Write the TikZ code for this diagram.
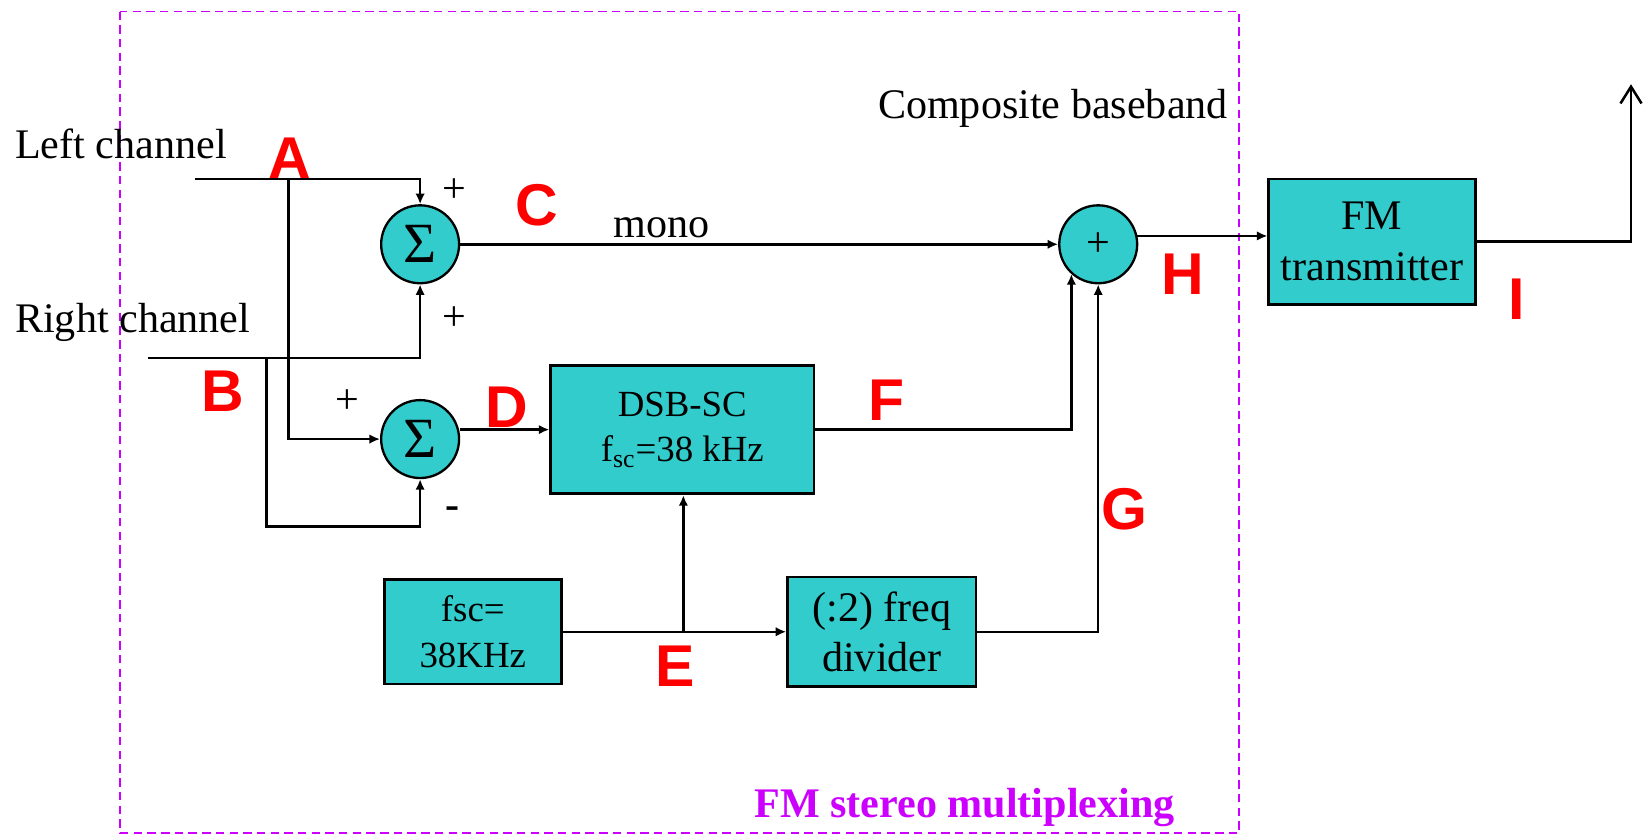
\documentclass[tikz,border=0pt]{standalone}
\usepackage{fontspec}
\setmainfont{Liberation Serif}
\newfontfamily\markfont{Liberation Sans}
\usepackage{tikz}
\usetikzlibrary{arrows.meta, calc, positioning}
\usepackage{xcolor}
\definecolor{blockteal}{RGB}{51,204,204}
\definecolor{muxmagenta}{RGB}{204,0,255}
\definecolor{markred}{RGB}{255,0,0}

\begin{document}
\begin{tikzpicture}[x=0.5pt, y=-0.5pt,
  block/.style={draw, line width=1.3pt, fill=blockteal, align=center, inner sep=0pt, font=\fontsize{20}{24}\selectfont},
  smallblock/.style={block, font=\fontsize{17.5}{21.5}\selectfont},
  adder/.style={draw, circle, line width=1.1pt, fill=blockteal, minimum size=37pt, inner sep=0pt},
  wire/.style={line width=1.2pt},
  sig/.style={wire, -{Latex[length=5pt,width=4.5pt]}},
  point/.style={font=\markfont\bfseries\fontsize{28}{28}\selectfont, text=markred},
  txt/.style={font=\fontsize{20}{24}\selectfont},
  sign/.style={font=\fontsize{20}{20}\selectfont}]
  \useasboundingbox (0,0) rectangle (1568,793);

  % multiplexer frame
  \draw[muxmagenta, line width=0.8pt, dash pattern=on 4pt off 2.5pt] (114,11) rectangle (1177,791);
  \node[font=\bfseries\fontsize{20}{24}\selectfont, text=muxmagenta] (muxname) at (916,767) {FM stereo multiplexing};

  % adders and blocks
  \node[adder, font=\fontsize{27}{27}\selectfont] (sumA) at (399,232) {Σ};
  \node[adder, font=\fontsize{27}{27}\selectfont] (sumB) at (399,417) {Σ};
  \node[adder, font=\fontsize{20}{20}\selectfont] (add) at (1043,232) {+};
  \node[smallblock, minimum width=125pt, minimum height=61pt] (dsb) at (648,408) {DSB-SC\\f\textsubscript{sc}=38 kHz};
  \node[smallblock, minimum width=84pt, minimum height=49.5pt] (osc) at (449,600) {fsc=\\38KHz};
  \node[block, minimum width=89.5pt, minimum height=52pt] (div) at (837.5,600) {(:2) freq\\divider};
  \node[block, minimum width=98pt, minimum height=59.5pt] (fm) at (1303,229.5) {FM\\transmitter};

  % inputs and branch points
  \coordinate (lin) at (185,170);
  \coordinate (rin) at (141,340);
  \coordinate (ja) at (274,170);
  \coordinate (jb) at (253,340);
  \coordinate (je) at (649,600);
  \coordinate (ant) at (1549,80);

  % connectors
  \draw[sig] (lin) -| (sumA.north);
  \draw[sig] (rin) -| (sumA.south);
  \draw[sig] (ja) |- (sumB.west);
  \draw[sig] (jb) -- ++(0,160) -| (sumB.south);
  \draw[sig] (sumA) -- (add);
  \draw[sig] (sumB.east |- dsb.west) -- (dsb.west);
  \draw[sig] (dsb.east) -| (add.228);
  \draw[sig] (osc) -- (div);
  \draw[sig] (je) -- (je |- dsb.south);
  \draw[sig] (div.east) -| (add.south);
  \draw[sig] (add.12) -- (add.12 -| fm.west);
  \draw[wire, -{Straight Barb[length=8pt,width=10pt]}] (fm.east) -| (ant);

  % text labels
  \node[txt, anchor=west, inner sep=0pt] (lefttxt) at (14,137) {Left channel};
  \node[txt, anchor=west, inner sep=0pt] (righttxt) at (14,306) {Right channel};
  \node[txt] (comptxt) at (1000,103) {Composite baseband};
  \node[txt] (monotxt) at (628,216) {mono};

  % signs at adder inputs
  \node[sign] (s1) at (432,181) {+};
  \node[sign] (s2) at (432,303) {+};
  \node[sign] (s3) at (330,381) {+};
  \node[sign, font=\bfseries\fontsize{20}{20}\selectfont] (s4) at (430,487) {-};

  % red test points
  \node[point] (pA) at (275,150) {A};
  \node[point] (pB) at (212,372) {B};
  \node[point] (pC) at (510,195) {C};
  \node[point] (pD) at (481,387) {D};
  \node[point] (pE) at (641,633) {E};
  \node[point] (pF) at (842,380) {F};
  \node[point] (pG) at (1068,484) {G};
  \node[point] (pH) at (1123,260) {H};
  \node[point] (pI) at (1440,284) {I};
\end{tikzpicture}
\end{document}
